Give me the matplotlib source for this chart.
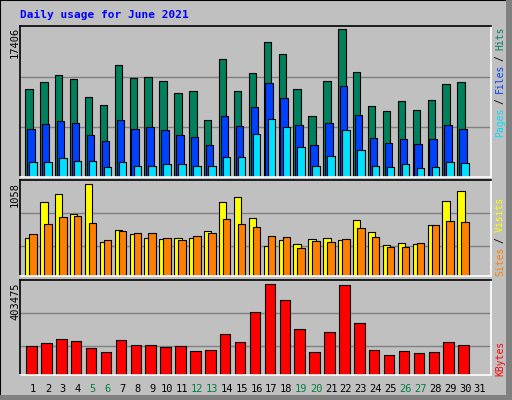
import matplotlib
matplotlib.use("Agg")
import matplotlib.pyplot as plt
import numpy as np

days = list(range(1, 32))
weekend_days = [5, 6, 12, 13, 19, 20, 26, 27]
hits = [10335, 11160, 11985, 11514, 9393, 8450, 13164, 11632, 11750, 11278, 9864, 10100, 6682, 13871, 10100,
        12221, 15874, 14460, 10335, 7153, 11278, 17406, 12339, 8332, 7743, 8921, 7861, 9039, 10925, 11160, 0]
files = [5621, 6211, 6564, 6329, 4914, 4207, 6682, 5621, 5857, 5504, 4914, 4679, 3736, 7153, 5975,
         8214, 11043, 9275, 6093, 3736, 6329, 10689, 7271, 4561, 3972, 4443, 3854, 4443, 6093, 5621, 0]
pages = [1732, 1732, 2204, 1850, 1850, 1143, 1732, 1261, 1261, 1497, 1497, 1261, 1261, 2322, 2322,
         5032, 6800, 5857, 3500, 1261, 2439, 5504, 3147, 1261, 1143, 1497, 1025, 1143, 1732, 1615, 0]
visits = [437, 851, 943, 713, 1058, 391, 529, 483, 437, 425, 437, 437, 517, 851, 908,
          667, 345, 414, 368, 425, 437, 414, 644, 506, 356, 379, 368, 586, 862, 977, 0]
sites = [483, 598, 678, 690, 609, 414, 517, 494, 494, 437, 414, 460, 494, 655, 598,
         563, 460, 448, 322, 402, 391, 425, 552, 448, 333, 333, 379, 586, 632, 621, 0]
kbytes = [128586, 141888, 159624, 150756, 119718, 101982, 155190, 133020, 133020, 124152, 128586, 106416,
          110850, 181794, 146322, 279342, 403475, 332550, 203964, 101982, 190662, 399060, 230568, 110850,
          88680, 106416, 97548, 101982, 146322, 133020, 0]

W, H = 512, 400
fig = plt.figure(figsize=(5.12, 4.0), dpi=100, facecolor="#C0C0C0")
mono = "DejaVu Sans Mono"
x = np.array(days, dtype=float)
XL = (0.148, 31.72)

def mkax(top, bottom, ymax, grids):
    ax = fig.add_axes([20.3 / W, 1 - bottom / H, (490.7 - 20.3) / W, (bottom - top) / H])
    ax.set_facecolor("#C0C0C0")
    ax.set_xlim(*XL)
    ax.set_ylim(0, ymax)
    for g in grids:
        ax.axhline(g, color="#808080", lw=1, zorder=0)
    ax.set_xticks([]); ax.set_yticks([])
    ax.spines["top"].set_color("black"); ax.spines["left"].set_color("black")
    ax.spines["right"].set_color("white"); ax.spines["bottom"].set_color("white")
    for s in ax.spines.values():
        s.set_linewidth(1.2)
    return ax

def bars(ax, vals, off, w, color):
    v = np.array(vals)
    m = v > 0
    ax.bar(x[m] + off, v[m], width=w, color=color, edgecolor="black", linewidth=0.8, zorder=2)

ax1 = mkax(25.5, 177, 17854, [5893, 11785])
bars(ax1, hits, -0.27, 0.5, "#00805C")
bars(ax1, files, -0.145, 0.5, "#0040FF")
bars(ax1, pages, 0.0, 0.5, "#00E0FF")

ax2 = mkax(180.3, 276.3, 1104, [345, 724])
bars(ax2, visits, -0.27, 0.5, "#FFFF00")
bars(ax2, sites, 0.0, 0.5, "#FF8000")

ax3 = mkax(280.3, 375.3, 421230, [128586, 274900])
bars(ax3, kbytes, -0.1, 0.7, "#FF0000")

for d in days:
    fig.text((33 + (d - 1) * 14.9) / W, 1 - 389 / H, str(d), ha="center", va="center",
             family=mono, fontsize=7.5, color="#008040" if d in weekend_days else "black")

fig.text(20 / W, 1 - 15 / H, "Daily usage for June 2021", ha="left", va="center",
         family=mono, fontsize=8, fontweight="bold", color="#0000FF")

for lab, ytop in [("17406", 27), ("1058", 182), ("403475", 282)]:
    fig.text(15 / W, 1 - ytop / H, lab, rotation=90, ha="center", va="top",
             family=mono, fontsize=7.5, color="black")

def side(pieces, ybottom, cw):
    pos = 0
    for txt, col in pieces:
        t = txt.strip()
        lead = len(txt) - len(txt.lstrip())
        fig.text(500 / W, 1 - (ybottom - (pos + lead) * cw) / H, t, rotation=90, rotation_mode="anchor",
                 ha="left", va="center", family=mono, fontsize=7.0, color=col)
        pos += len(txt)

side([("Pages", "#00E0FF"), (" / ", "black"), ("Files", "#0040FF"), (" / ", "black"), ("Hits", "#00805C")], 137, 5.45)
side([("Sites", "#FF8000"), (" / ", "black"), ("Visits", "#FFFF00")], 276, 5.5)
side([("KBytes", "#FF0000")], 376, 5.8)

from matplotlib.patches import Rectangle
fig.patches.append(Rectangle((0, 0), 1, 1, transform=fig.transFigure, fill=False, edgecolor="black", lw=1.5))
fig.patches.append(Rectangle((506 / W, 0), 6 / W, 1, transform=fig.transFigure, color="#808080", lw=0))
fig.patches.append(Rectangle((0, 0), 1, 5 / H, transform=fig.transFigure, color="#808080", lw=0))

fig.savefig("out.png", dpi=100, facecolor=fig.get_facecolor())
